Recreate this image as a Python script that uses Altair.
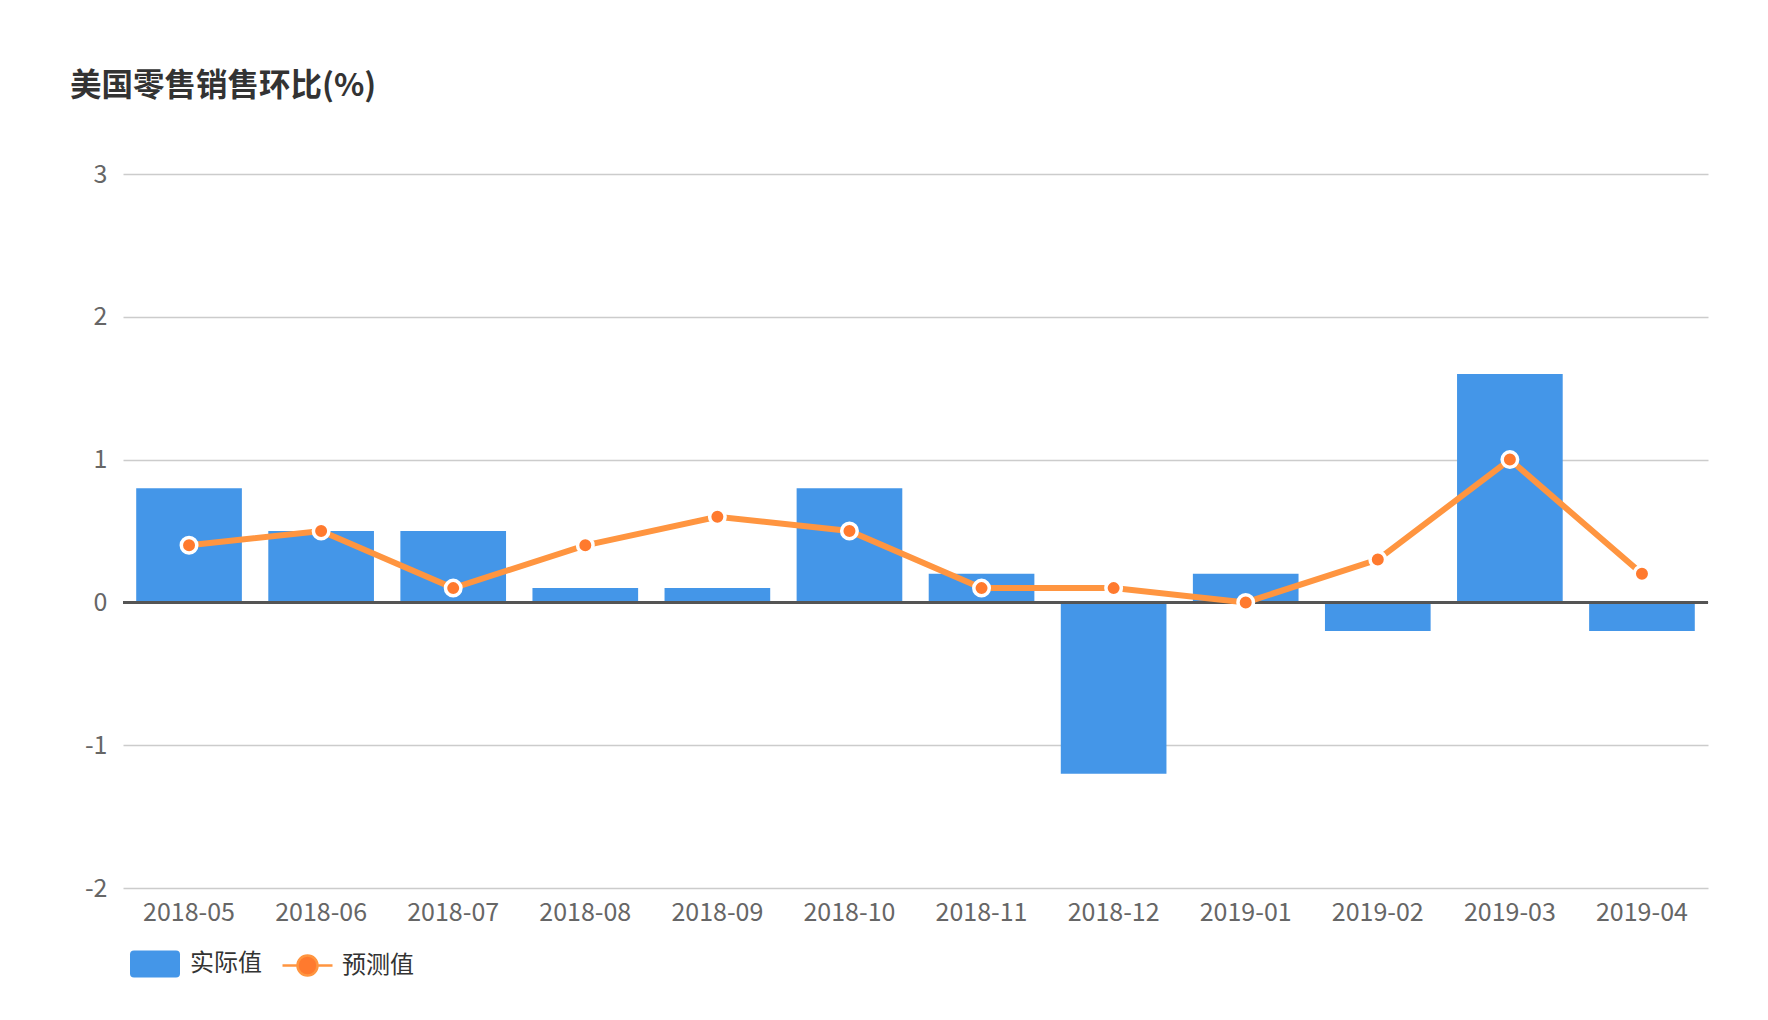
import altair as alt
import pandas as pd

months = ["2018-05", "2018-06", "2018-07", "2018-08", "2018-09", "2018-10",
          "2018-11", "2018-12", "2019-01", "2019-02", "2019-03", "2019-04"]
actual = [0.8, 0.5, 0.5, 0.1, 0.1, 0.8, 0.2, -1.2, 0.2, -0.2, 1.6, -0.2]
forecast = [0.4, 0.5, 0.1, 0.4, 0.6, 0.5, 0.1, 0.1, 0.0, 0.3, 1.0, 0.2]
series_names = ["实际值", "预测值"]
y_ticks = [-2, -1, 0, 1, 2, 3]

df = pd.DataFrame({
    "month": months,
    "actual": actual,
    "forecast": forecast,
    "s1": series_names[0],
    "s2": series_names[1],
})

FONT = "Noto Sans CJK SC"
BLUE = "#4496e8"
LINE = "#ff9540"
DOT = "#ff7a2e"

rect_path = ("M-0.84,-0.54H0.84Q1,-0.54,1,-0.38V0.38Q1,0.54,0.84,0.54H-0.84"
             "Q-1,0.54,-1,0.38V-0.38Q-1,-0.54,-0.84,-0.54Z")
line_path = ("M-1,0H-0.4M0.4,0H1M0.4,0A0.4,0.4,0,1,1,-0.4,0A0.4,0.4,0,1,1,0.4,0Z")

x_enc = alt.X("month:N", sort=months, title=None,
              scale=alt.Scale(paddingInner=0.2, paddingOuter=0.1),
              axis=alt.Axis(labelAngle=0, labelFontSize=25, labelColor="#666666",
                            labelFont=FONT, labelPadding=12, domain=False, ticks=False,
                            grid=False))
y_scale = alt.Scale(domain=[-2, 3], nice=False, zero=False)

bars = alt.Chart(df).mark_bar().encode(
    x=x_enc,
    y=alt.Y("actual:Q", scale=y_scale, title=None,
            axis=alt.Axis(values=y_ticks, labelExpr="'' + datum.value",
                          labelFontSize=25, labelColor="#666666",
                          labelFont=FONT, labelPadding=16, domain=False, ticks=False,
                          grid=True, gridColor="#cccccc", gridWidth=1.5)),
    fill=alt.Fill("s1:N", scale=alt.Scale(domain=[series_names[0]], range=[BLUE]),
                  legend=alt.Legend(orient="none", legendX=7, legendY=765, title=None,
                                    symbolType=rect_path, symbolSize=2500,
                                    labelFontSize=24, labelFont=FONT, labelColor="#333333",
                                    labelOffset=10, padding=0, symbolStrokeWidth=0)),
)

zero = alt.Chart(df).mark_rule(color="#555555", strokeWidth=2.5).encode(y=alt.datum(0))

line = alt.Chart(df).mark_line(strokeWidth=6).encode(
    x=alt.X("month:N", sort=months),
    y=alt.Y("forecast:Q", scale=y_scale),
    stroke=alt.Stroke("s2:N", scale=alt.Scale(domain=[series_names[1]], range=[LINE]),
                      legend=alt.Legend(orient="none", legendX=158, legendY=765, title=None,
                                        symbolType=line_path, symbolSize=2500,
                                        symbolStrokeWidth=2.5, symbolFillColor=DOT,
                                        labelFontSize=24, labelFont=FONT,
                                        labelColor="#333333", labelOffset=8, padding=0)),
)

points = alt.Chart(df).mark_point(filled=True, fill=DOT, stroke="white", strokeWidth=3.5,
                                  size=240, opacity=1, shape="circle").encode(
    x=alt.X("month:N", sort=months),
    y=alt.Y("forecast:Q", scale=y_scale),
)

chart = alt.layer(bars, zero, line, points).resolve_legend(fill="independent", stroke="independent").properties(
    width=1585, height=714,
    background="white",
    title=alt.TitleParams("美国零售销售环比(%)", anchor="start", frame="group", dx=-53,
                          offset=60, fontSize=31.5, font=FONT, fontWeight="bold",
                          color="#333333"),
    autosize=alt.AutoSizeParams(type="none"),
    padding={"left": 115, "top": 166, "right": 52, "bottom": 124},
).configure_view(strokeWidth=0, stroke="transparent")

chart.save("out.html", embed_options={"renderer": "svg", "actions": False})
